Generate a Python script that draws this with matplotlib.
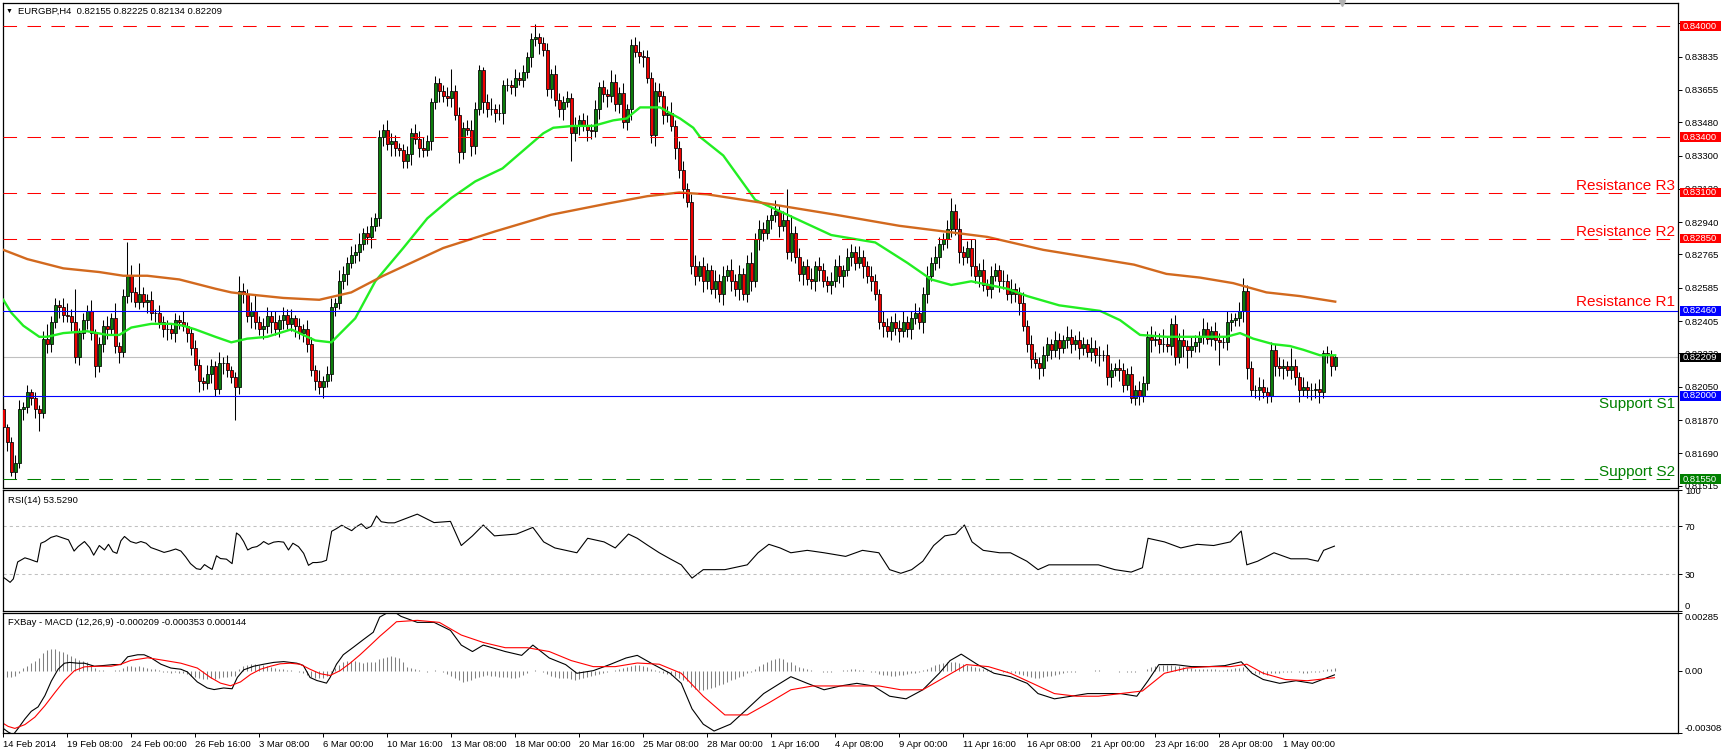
import numpy as np
import matplotlib.pyplot as plt
from matplotlib import transforms
from matplotlib.patches import Rectangle

plt.rcParams['font.family'] = ['Liberation Sans', 'DejaVu Sans']

W, H = 1722, 754

# ---- EURGBP H4 candles, prices in pips above 0.80000 ----
first_open = 193
closes = [
    183, 175, 159, 164, 193, 194, 202, 199, 193, 191,
    231, 228, 240, 249, 248, 244, 243, 240, 221, 234,
    241, 246, 234, 216, 228, 238, 236, 242, 227, 224,
    254, 265, 256, 251, 255, 251, 252, 245, 245, 240,
    236, 236, 234, 241, 240, 238, 234, 226, 217, 208,
    207, 212, 216, 204, 218, 218, 214, 210, 205, 257,
    255, 243, 246, 240, 236, 238, 243, 240, 236, 241,
    244, 239, 242, 238, 234, 236, 228, 214, 208, 205,
    208, 212, 248, 250, 262, 266, 272, 276, 278, 282,
    288, 286, 292, 296, 340, 344, 336, 338, 334, 333,
    327, 331, 342, 339, 334, 333, 338, 359, 369, 365,
    362, 361, 365, 352, 332, 345, 344, 335, 355, 376,
    359, 355, 355, 353, 353, 368, 368, 367, 372, 371,
    375, 383, 393, 394, 391, 387, 366, 374, 360, 355,
    359, 361, 342, 346, 349, 346, 344, 343, 355, 367,
    363, 362, 370, 358, 364, 348, 355, 390, 386, 384,
    383, 372, 341, 365, 362, 352, 353, 346, 334, 322,
    312, 305, 270, 265, 270, 262, 268, 258, 262, 255,
    265, 268, 262, 258, 266, 255, 272, 262, 285, 290,
    288, 295, 298, 300, 292, 295, 278, 288, 275, 266,
    270, 263, 262, 270, 268, 262, 260, 262, 270, 265,
    268, 275, 278, 272, 275, 270, 265, 262, 255, 240,
    238, 235, 240, 237, 235, 240, 236, 242, 245, 240,
    255, 265, 272, 275, 282, 285, 290, 300, 290, 278,
    275, 280, 270, 265, 268, 260, 258, 265, 268, 262,
    262, 255, 258, 255, 250, 238, 228, 220, 218, 215,
    222, 228, 225, 230, 226, 230, 232, 228, 230, 226,
    228, 224, 226, 222, 222, 222, 210, 214, 215, 214,
    206, 212, 199, 203, 200, 207, 232, 230, 231, 228,
    228, 227, 239, 221, 230, 227, 225, 227, 229, 232,
    236, 231, 235, 230, 229, 229, 240, 241, 242, 246,
    257, 215, 203, 203, 205, 202, 200, 225, 216, 215,
    216, 214, 216, 210, 203, 205, 203, 203, 204, 202,
    223, 222, 216, 221,
]
# wick lengths in pips above the body top / below the body bottom
upper_wick = [
    3, 2, 3, 4, 5, 3, 4, 2, 3, 2, 4, 8, 3, 4, 3, 5, 6, 4, 18, 3,
    4, 3, 6, 2, 4, 3, 5, 3, 8, 2, 4, 18, 6, 3, 17, 4, 3, 5, 2, 4,
    3, 5, 3, 4, 3, 6, 2, 3, 4, 3, 2, 5, 4, 3, 6, 3, 4, 2, 3, 8,
    4, 3, 5, 9, 3, 4, 5, 3, 6, 3, 4, 3, 5, 2, 4, 3, 5, 4, 3, 6,
    3, 4, 5, 3, 6, 4, 3, 5, 4, 6, 3, 4, 5, 3, 4, 3, 5, 4, 3, 3,
    3, 4, 3, 5, 4, 6, 3, 2, 4, 3, 3, 5, 12, 3, 4, 3, 4, 5, 4, 3,
    2, 4, 6, 3, 5, 3, 4, 3, 5, 3, 4, 3, 3, 7, 2, 3, 4, 3, 5, 4,
    3, 4, 3, 5, 3, 4, 6, 3, 5, 3, 4, 3, 6, 4, 3, 5, 3, 3, 4, 6,
    3, 4, 3, 5, 4, 3, 4, 6, 3, 4, 5, 3, 4, 6, 3, 5, 4, 3, 6, 4,
    5, 3, 6, 4, 5, 3, 4, 6, 3, 5, 4, 3, 4, 6, 3, 5, 17, 10, 4, 5,
    3, 4, 6, 3, 5, 4, 3, 5, 4, 6, 3, 5, 4, 3, 6, 4, 3, 5, 4, 3,
    6, 4, 3, 5, 4, 6, 3, 4, 5, 3, 4, 5, 3, 6, 4, 3, 5, 7, 4, 6,
    3, 4, 5, 15, 4, 6, 3, 5, 4, 3, 6, 4, 5, 3, 4, 6, 3, 5, 4, 3,
    5, 4, 3, 5, 4, 3, 6, 4, 3, 5, 4, 3, 6, 4, 5, 3, 6, 4, 3, 5,
    4, 3, 4, 3, 5, 4, 3, 6, 4, 3, 8, 4, 3, 5, 4, 6, 3, 5, 4, 3,
    6, 4, 3, 5, 4, 3, 6, 4, 3, 5, 7, 3, 4, 3, 5, 4, 3, 4, 3, 5,
    4, 3, 10, 4, 3, 5, 3, 4, 3, 5, 2, 4, 3, 1,
]
lower_wick = [
    8, 5, 2, 4, 3, 6, 3, 4, 5, 10, 3, 5, 4, 3, 6, 4, 3, 5, 3, 4,
    3, 5, 4, 6, 3, 4, 5, 3, 4, 6, 3, 4, 5, 3, 4, 3, 6, 4, 5, 3,
    4, 6, 3, 5, 4, 3, 5, 4, 3, 6, 4, 3, 5, 4, 3, 6, 4, 3, 18, 4,
    5, 3, 6, 4, 3, 5, 4, 6, 3, 4, 5, 3, 4, 6, 3, 5, 4, 3, 5, 4,
    6, 3, 4, 5, 3, 4, 6, 3, 4, 5, 3, 4, 6, 3, 4, 5, 3, 6, 4, 3,
    4, 4, 6, 3, 5, 4, 3, 5, 4, 6, 3, 4, 5, 3, 6, 4, 3, 5, 4, 3,
    6, 4, 3, 5, 4, 6, 3, 4, 5, 3, 4, 3, 5, 4, 6, 3, 4, 5, 3, 4,
    6, 3, 15, 4, 5, 3, 6, 4, 3, 5, 4, 6, 3, 4, 5, 3, 4, 6, 3, 4,
    5, 3, 4, 6, 3, 5, 4, 3, 6, 4, 5, 3, 4, 5, 3, 6, 4, 3, 5, 4,
    6, 3, 5, 4, 6, 3, 4, 5, 3, 6, 4, 3, 5, 4, 6, 3, 4, 5, 3, 4,
    6, 3, 4, 5, 6, 3, 4, 5, 3, 4, 6, 3, 5, 4, 3, 6, 4, 5, 3, 4,
    6, 3, 5, 4, 6, 3, 4, 5, 3, 4, 6, 5, 3, 4, 6, 3, 5, 4, 3, 6,
    4, 3, 5, 4, 6, 3, 4, 5, 3, 6, 4, 3, 5, 4, 6, 3, 4, 5, 3, 6,
    4, 3, 5, 4, 6, 3, 4, 5, 3, 6, 4, 3, 5, 4, 6, 3, 4, 5, 3, 6,
    4, 3, 3, 4, 5, 3, 4, 6, 3, 5, 4, 3, 5, 4, 3, 6, 10, 4, 3, 5,
    4, 3, 4, 5, 12, 3, 4, 5, 3, 4, 6, 6, 3, 4, 5, 3, 4, 3, 5, 4,
    6, 3, 5, 4, 6, 3, 4, 5, 4, 6, 3, 4, 5, 2,
]

# moving averages: (bar index, pips above 0.80000)
ma_fast = [
    (0, 252), (2, 245), (5, 238), (7, 235), (9, 232), (11, 232), (15, 234), (21, 235),
    (26, 233), (29, 233), (32, 237), (37, 239), (42, 239), (45, 238), (48, 236), (53, 232),
    (57, 229), (61, 231), (66, 232), (72, 236), (78, 230), (82, 229), (88, 242), (93, 262),
    (100, 280), (106, 296), (112, 307), (118, 316), (124.8, 323), (135, 342), (137.5, 345),
    (142.5, 346), (147.5, 346), (152.5, 349), (155.8, 350), (159.2, 356), (164.2, 356),
    (165.8, 354), (169.2, 350), (172.5, 345), (174.2, 340), (180, 330), (188, 306),
    (196, 298), (207, 287), (218, 283), (226, 272), (232, 263), (237, 260), (242, 262),
    (251, 258), (256, 254), (264, 249), (274.2, 246), (279.2, 241), (284.2, 233),
    (290.8, 232), (299.2, 232), (305.8, 232), (309.2, 234), (312.5, 231), (317.5, 228),
    (321.7, 227), (325, 225), (329.2, 222), (333, 222),
]
ma_slow = [
    (0, 279), (6, 274), (15, 269), (24, 267), (30, 265), (36, 265), (44, 263), (53, 258),
    (57, 256), (61, 255), (70, 253), (79, 252), (87, 256), (95, 265), (110, 280), (123, 289),
    (137, 298), (151, 304), (161, 308), (169, 310), (176, 309), (191, 304), (208, 298),
    (224, 292), (235, 289), (246, 286), (260, 279), (274.2, 274), (282.7, 271), (290.8, 266),
    (299.2, 264), (307.5, 261), (315.8, 256), (324.2, 254), (333, 251),
]

# RSI(14): (bar index, value)
rsi_points = [
    (0, 27.7), (0.8, 25.8), (1.7, 23.5), (2.5, 26.3), (3.6, 40.4), (5.4, 43.8), (6.6, 42.6),
    (7.9, 41.0), (8.5, 40.4), (9.4, 55.9), (10.4, 57.3), (11.9, 60.7), (13.3, 62.1), (14.5, 60.7),
    (16.3, 58.7), (17.7, 49.4), (18.7, 53.1), (20.3, 57.3), (21.6, 52.3), (22.6, 46.0), (24.0, 54.0),
    (25.3, 50.3), (26.3, 55.0), (27.4, 48.9), (28.4, 47.5), (29.4, 57.9), (30.3, 61.5), (31.8, 57.3),
    (33.2, 55.9), (34.4, 57.3), (35.7, 55.9), (36.9, 52.3), (38.6, 50.3), (40.2, 48.3), (41.5, 49.4),
    (43.1, 51.1), (44.4, 49.4), (45.6, 44.6), (46.8, 39.0), (48.3, 34.8), (49.3, 34.2), (50.3, 38.2),
    (51.2, 36.2), (52.2, 34.2), (53.3, 45.5), (54.3, 43.2), (55.8, 42.7), (57.2, 39.0), (58.3, 64.4),
    (59.1, 62.4), (60.1, 57.3), (61.1, 50.3), (62.2, 52.3), (63.4, 53.1), (64.3, 55.0), (65.1, 57.3),
    (66.3, 55.0), (67.6, 56.8), (68.8, 57.3), (70.1, 56.8), (71.3, 50.3), (72.4, 55.9), (73.8, 53.1),
    (75.1, 47.5), (76.3, 37.6), (77.4, 39.9), (78.4, 39.9), (79.6, 40.4), (80.8, 41.8), (82.1, 65.8),
    (83.3, 68.0), (84.6, 70.8), (85.8, 68.6), (87.1, 66.3), (88.1, 69.2), (89.5, 72.0), (90.8, 68.0),
    (92.0, 70.0), (93.3, 78.5), (94.5, 73.7), (96.2, 72.8), (97.8, 72.8), (103.5, 80), (107.7, 73),
    (111.8, 74), (114.5, 54), (117.3, 62), (120, 71), (122.8, 62), (128.3, 63.5), (132.4, 69),
    (135.1, 57), (137.9, 52), (140.6, 50), (143.4, 48), (146.1, 60), (150.2, 57), (153, 52),
    (156.3, 63.5), (158.5, 60), (161.2, 54), (164, 48), (166.7, 43), (169.5, 38), (172.2, 27),
    (175, 34), (180.4, 34), (186, 38), (188.7, 48), (191.4, 55), (194.2, 52), (196.9, 48),
    (201, 50), (205.2, 48), (210.6, 45), (214.8, 50), (218.9, 48), (221.6, 34), (224.4, 31),
    (227.1, 34), (229.9, 41), (232.6, 54), (235.4, 62), (238.1, 63.5), (240.3, 71), (242.2, 57),
    (245, 50), (249.1, 48), (251.8, 48), (255.9, 41), (258.7, 34), (261.4, 38), (265.6, 38),
    (269.7, 38), (273.8, 38), (277.9, 34), (282, 32), (284.8, 35.6), (286.2, 60), (290.3, 57),
    (294.4, 52), (298.5, 55), (302.6, 54), (306.8, 57), (309.5, 66), (310.9, 38), (313.6, 41),
    (317.7, 48), (321.9, 43), (326, 43), (328.7, 41), (330.1, 50), (332.8, 53.5),
]

# MACD(12,26,9) in units of 0.00001: (bar index, value)
macd_points = [
    (0, -287), (1.2, -305), (2.5, -318), (3.7, -287), (5.4, -240), (7.0, -202), (8.7, -180),
    (10.4, -124), (12.0, -52), (13.7, 7), (15.3, 37), (16.6, 41), (18.7, 37), (20.3, 37),
    (22.8, 22), (25.3, 26), (27.4, 30), (29.4, 30), (31.1, 69), (33.6, 79), (35.2, 79),
    (36.9, 64), (39.4, 32), (41.9, 13), (44.4, 7), (46.0, -6), (48.5, -56), (51.0, -86),
    (52.7, -94), (55.1, -86), (57.2, -90), (58.5, -34), (60.1, 4), (62.6, 22), (65.1, 32),
    (67.6, 41), (70.1, 45), (73.4, 37), (75.0, 26), (76.7, -34), (78.4, -49), (80.8, -62),
    (81.7, -34), (83.3, 32), (85.0, 79), (87.5, 116), (90.0, 154), (92.5, 191), (94.1, 266),
    (95.8, 285), (98.3, 285), (99.4, 270), (103.5, 240), (107.7, 240), (111.8, 200),
    (114.5, 127), (117.3, 95), (120, 127), (125.5, 95), (129.6, 76), (132.4, 127), (136.5, 63),
    (140.6, 30), (143.4, -13), (147.5, 0), (151.6, 30), (155.7, 63), (158.5, 76), (162.6, 30),
    (166.7, -13), (169.5, -63), (172.2, -190), (175, -266), (177.7, -300), (181.8, -266),
    (186, -190), (190.1, -114), (194.2, -63), (196.9, -30), (201, -63), (205.2, -95),
    (209.3, -76), (213.4, -63), (217.5, -76), (221.6, -127), (225.7, -140), (229.9, -95),
    (234, -13), (236.7, 50), (239.5, 82), (243.6, 30), (247.7, -13), (251.8, -30), (256, -63),
    (258.7, -114), (262.8, -140), (267, -127), (271.1, -114), (275.2, -114), (279.3, -114),
    (283.4, -127), (286.2, -50), (288.9, 30), (293, 30), (297.1, 20), (301.3, 20), (305.4, 25),
    (309.5, 44), (312.2, -13), (315, -44), (319.1, -63), (323.2, -50), (327.3, -63), (332.8, -21),
]
signal_points = [
    (0, -262), (1.2, -277), (2.9, -287), (5.4, -268), (7.9, -231), (10.4, -174), (12.9, -109),
    (15.3, -49), (17.8, 0), (20.3, 19), (23.6, 22), (27, 22), (29.4, 32), (31.9, 51), (36.1, 64),
    (40.2, 51), (44.4, 37), (48.5, 13), (51.8, -34), (54.3, -62), (56.8, -75), (59.3, -56),
    (61.8, -19), (64.3, 7), (66.8, 22), (69.2, 34), (71.7, 37), (74.2, 32), (76.7, 7),
    (79.2, -15), (81.7, -24), (84.2, 0), (86.7, 37), (89.2, 79), (91.7, 125), (94.2, 172),
    (96.6, 213), (98.3, 243), (103.5, 250), (109, 240), (114.5, 177), (120, 140), (125.5, 114),
    (131, 114), (136.5, 95), (142, 50), (147.5, 20), (153, 20), (158.5, 38), (164, 32),
    (169.5, -13), (175, -127), (180.4, -220), (186, -220), (191.4, -160), (196.9, -95),
    (202.4, -76), (207.9, -76), (213.4, -76), (218.9, -76), (224.4, -95), (229.9, -95),
    (235.4, -32), (240.8, 30), (246.3, 20), (251.8, -13), (257.3, -63), (262.8, -114),
    (268.3, -127), (273.8, -127), (279.3, -114), (284.8, -101), (290.3, -13), (295.8, 13),
    (301.3, 20), (306.8, 20), (310.9, 32), (315, -13), (320.5, -44), (326, -50), (332.8, -35),
]
# MACD histogram per bar, units of 0.00001
macd_hist = [
    -30, -32, -30, -25, -10, 15, 25, 38, 50, 62, 90, 105, 110, 108, 100, 95, 85, 75, 62, 55,
    50, 42, 28, 12, 5, 2, -3, -2, 3, 2, 15, 22, 25, 20, 22, 18, 12, 8, 6, 2,
    -5, -8, -10, -8, -10, -12, -18, -25, -30, -38, -42, -40, -38, -40, -35, -32, -30, -28, -25, 10,
    22, 30, 35, 32, 30, 28, 25, 20, 15, 10, 8, 5, 2, 0, -5, -12, -20, -30, -35, -38,
    -35, -25, -5, 15, 30, 42, 48, 50, 48, 45, 40, 42, 45, 42, 60, 62, 70, 72, 68, 62,
    45, 20, 15, 10, 5, 0, -5, 0, 5, 0, -8, -15, -25, -35, -45, -55, -50, -45, -35, -30,
    -25, -20, -25, -25, -30, -30, -30, -35, -35, -30, -20, -10, 0, 5, 0, -5, -15, -25, -30, -35,
    -35, -35, -40, -45, -40, -35, -30, -25, -20, -15, -10, -5, 0, 5, 10, 15, 20, 25, 28, 28,
    25, 20, 10, 5, -5, -10, -15, -20, -25, -35, -45, -52, -80, -90, -95, -95, -90, -88, -80, -72,
    -65, -55, -48, -40, -32, -25, -12, -5, 10, 22, 35, 45, 55, 60, 62, 60, 45, 42, 30, 20,
    15, 8, 2, 0, -2, -5, -8, -5, -2, 0, 2, 5, 8, 6, 5, 2, -2, -5, -8, -15,
    -20, -22, -25, -25, -22, -20, -15, -12, -10, -5, 2, 10, 20, 28, 35, 40, 42, 45, 45, 40,
    35, 30, 25, 20, 15, 10, 5, 2, 0, -2, -5, -5, -8, -10, -15, -22, -28, -32, -35, -35,
    -32, -28, -25, -20, -15, -12, -8, -5, -5, -3, -2, 0, 0, 2, 2, -2, -2, -2, 0, -5,
    -3, -8, -8, -6, -4, -2, 10, 18, 22, 25, 28, 26, 28, 22, 22, 18, 15, 12, 10, 10,
    8, 8, 8, 6, 5, 5, 8, 10, 12, 14, 18, 5, -5, -12, -15, -18, -20, -10, -10, -10,
    -8, -6, -5, -4, -8, -10, -10, -8, -8, -6, 4, 8, 10, 14,
]

# price levels
resistance = [0.84000, 0.83400, 0.83100, 0.82850]
resistance_names = {0.83100: 'Resistance R3', 0.82850: 'Resistance R2'}
r1_level = 0.82460
s1_level = 0.82000
s2_level = 0.81550
last_price = 0.82209

price_ticks = [0.84015, 0.83835, 0.83655, 0.83480, 0.83300, 0.83120, 0.82940, 0.82765,
               0.82585, 0.82405, 0.82230, 0.82050, 0.81870, 0.81690, 0.81515]
date_labels = ['14 Feb 2014', '19 Feb 08:00', '24 Feb 00:00', '26 Feb 16:00', '3 Mar 08:00',
               '6 Mar 00:00', '10 Mar 16:00', '13 Mar 08:00', '18 Mar 00:00', '20 Mar 16:00',
               '25 Mar 08:00', '28 Mar 00:00', '1 Apr 16:00', '4 Apr 08:00', '9 Apr 00:00',
               '11 Apr 16:00', '16 Apr 08:00', '21 Apr 00:00', '23 Apr 16:00', '28 Apr 08:00',
               '1 May 00:00']
bars_per_label = 16

# ---- derived OHLC ----
c = 0.8 + np.array(closes) / 1e4
o = np.r_[0.8 + first_open / 1e4, c[:-1]]
hi = np.maximum(o, c) + np.array(upper_wick) / 1e4
lo = np.minimum(o, c) - np.array(lower_wick) / 1e4
x = np.arange(len(c))

FS = 6.8
GREEN_BODY = '#0b7d0b'
RED_BODY = '#ee0000'


def pix_axes(x0, y0, x1, y1):
    return [x0 / W, 1 - y1 / H, (x1 - x0) / W, (y1 - y0) / H]


def fx(px):
    # figure pixel -> axes fraction (all panels share the same horizontal extent)
    return (px - 2.5) / (1678 - 2.5)


fig = plt.figure(figsize=(W / 100, H / 100), dpi=100)
ax = fig.add_axes(pix_axes(2.5, 2.7, 1678, 488.3))
ax_rsi = fig.add_axes(pix_axes(2.5, 490, 1678, 610.7))
ax_macd = fig.add_axes(pix_axes(2.5, 613.3, 1678, 732.7))

XLIM = (-0.2, 418.7)
for a in (ax, ax_rsi, ax_macd):
    a.set_xlim(*XLIM)
    for s in a.spines.values():
        s.set_linewidth(0.9)
        s.set_color('black')
    a.tick_params(axis='y', which='both', left=False, right=True, labelleft=False,
                  labelright=True, length=3, width=0.7, labelsize=FS, pad=2)
    a.tick_params(axis='x', bottom=False, labelbottom=False)

# ---- main price panel ----
ax.set_ylim(0.81501, 0.84126)
ax.vlines(x, lo, hi, colors='black', lw=0.75, zorder=3)
body_colors = np.where(c >= o, GREEN_BODY, RED_BODY)
ax.bar(x, c - o, bottom=o, width=0.75, color=body_colors, edgecolor='black',
       linewidth=0.55, zorder=4)

fi, fv = zip(*ma_fast)
ax.plot(fi, 0.8 + np.array(fv) / 1e4, color='#22ee22', lw=1.7, zorder=5)
si, sv = zip(*ma_slow)
ax.plot(si, 0.8 + np.array(sv) / 1e4, color='#d2691e', lw=1.7, zorder=5)

for lvl in resistance:
    ax.axhline(lvl, color='#ff0000', lw=0.75, ls=(0, (13, 10)), zorder=5)
ax.axhline(r1_level, color='#0000ff', lw=0.8, zorder=5)
ax.axhline(s1_level, color='#0000ff', lw=0.8, zorder=5)
ax.axhline(s2_level, color='#008000', lw=0.75, ls=(0, (13, 10)), zorder=5)
ax.axhline(last_price, color='#c0c0c0', lw=0.8, zorder=2)

ax.set_yticks(price_ticks)
ax.set_yticklabels([f'{v:.5f}' for v in price_ticks])

trans = transforms.blended_transform_factory(ax.transAxes, ax.transData)
tx = fx(1675)
for lvl, name in resistance_names.items():
    ax.text(tx, lvl, name, transform=trans, ha='right', va='bottom', color='#ff0000',
            fontsize=11, zorder=6)
ax.text(tx, r1_level + 0.00008, 'Resistance R1', transform=trans, ha='right', va='bottom',
        color='#ff0000', fontsize=11, zorder=6)
ax.text(tx, s1_level - 0.00005, 'Support S1', transform=trans, ha='right', va='top',
        color='#008000', fontsize=11, zorder=6)
ax.text(tx, s2_level, 'Support S2', transform=trans, ha='right', va='bottom',
        color='#008000', fontsize=11, zorder=6)

box_h = 9.5 * (0.84126 - 0.81501) / (488.3 - 2.7)
boxes = [(v, '#ff0000') for v in resistance] + [(r1_level, '#0000ff'), (last_price, '#000000'),
                                                 (s1_level, '#0000ff'), (s2_level, '#008000')]
for v, col in boxes:
    ax.add_patch(Rectangle((fx(1680), v - box_h / 2), fx(1721) - fx(1680), box_h,
                           transform=trans, facecolor=col, edgecolor='none',
                           clip_on=False, zorder=8))
    ax.text(fx(1683), v, f'{v:.5f}', transform=trans, color='white', fontsize=FS,
            ha='left', va='center', zorder=9, clip_on=False)

# chart shift marker
ax.plot([334.7], [1.0], marker='v', ms=5, color='#b0b0b0',
        transform=transforms.blended_transform_factory(ax.transData, ax.transAxes),
        clip_on=False, zorder=9)

fig.text(9.5 / W, 1 - 11.5 / H, '\u25bc', fontsize=5, va='center', ha='center')
fig.text(18 / W, 1 - 11.5 / H, 'EURGBP,H4  0.82155 0.82225 0.82134 0.82209', fontsize=FS,
         va='center', ha='left')

# ---- RSI panel ----
ax_rsi.set_ylim(0, 100)
ri, rv = zip(*rsi_points)
ax_rsi.plot(ri, rv, color='black', lw=0.8)
for lvl in (70, 30):
    ax_rsi.axhline(lvl, color='#c0c0c0', lw=0.75, ls=(0, (3, 3)))
ax_rsi.set_yticks([100, 70, 30, 0])
ax_rsi.set_yticklabels(['100', '70', '30', '0'])
ax_rsi.get_yticklabels()[3].set_va('bottom')
ax_rsi.text(fx(8), 0.915, 'RSI(14) 53.5290', transform=ax_rsi.transAxes, fontsize=FS,
            va='center', ha='left')

# ---- MACD panel ----
ax_macd.set_ylim(-0.003083, 0.00285)
ax_macd.vlines(x, 0, np.array(macd_hist) / 1e5, colors='#808080', lw=0.75)
mi, mv = zip(*macd_points)
ax_macd.plot(mi, np.array(mv) / 1e5, color='black', lw=0.8)
gi, gv = zip(*signal_points)
ax_macd.plot(gi, np.array(gv) / 1e5, color='#ff0000', lw=0.8)
ax_macd.set_yticks([0.00285, 0.0, -0.003083])
ax_macd.set_yticklabels(['0.00285', '0.00', '-0.003083'])
ax_macd.get_yticklabels()[0].set_va('top')
ax_macd.get_yticklabels()[2].set_va('bottom')
ax_macd.text(fx(8), 0.92, 'FXBay - MACD (12,26,9) -0.000209 -0.000353 0.000144',
             transform=ax_macd.transAxes, fontsize=FS, va='center', ha='left')

ax_macd.set_xticks([k * bars_per_label for k in range(len(date_labels))])
ax_macd.set_xticklabels(date_labels, ha='left')
ax_macd.tick_params(axis='x', bottom=True, labelbottom=True, length=3, width=0.7,
                    labelsize=FS, pad=2)

fig.savefig('out.png', dpi=100)
